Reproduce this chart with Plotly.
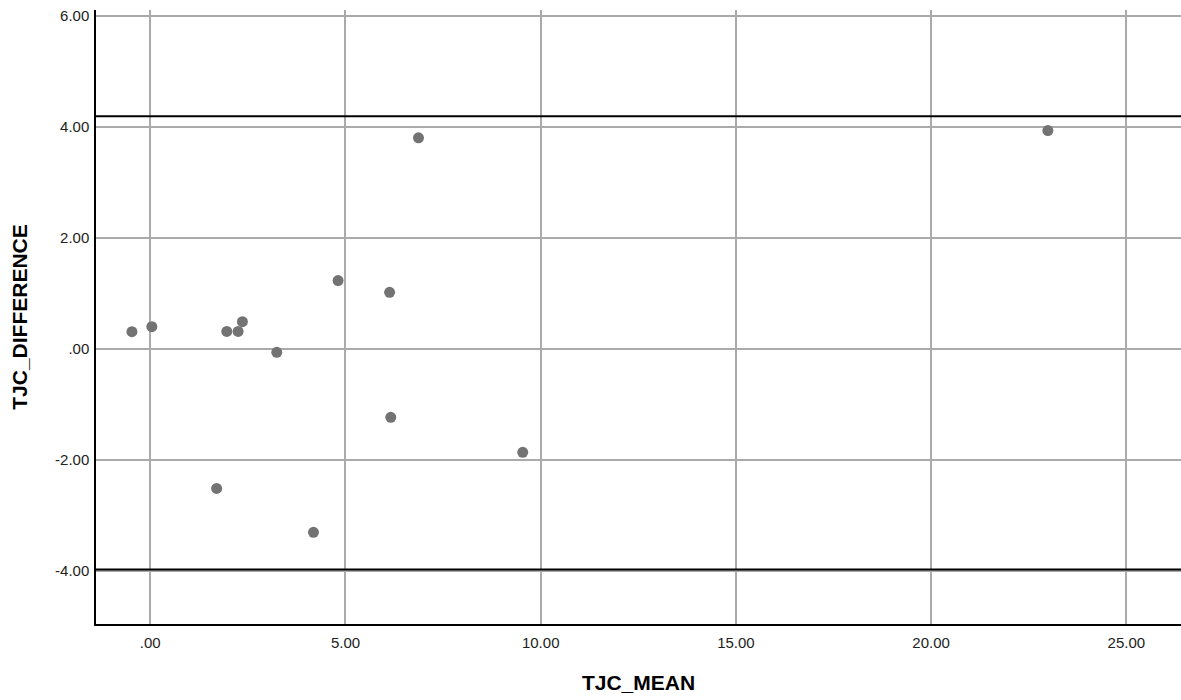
import plotly.graph_objects as go

tjc_mean = [-0.47, 0.04, 1.96, 2.25, 2.36, 3.24, 4.81, 6.13, 6.16, 6.87, 9.54, 1.70, 4.18, 22.99]
tjc_diff = [0.31, 0.40, 0.315, 0.315, 0.49, -0.06, 1.23, 1.02, -1.23, 3.80, -1.86, -2.51, -3.30, 3.93]

upper_loa = 4.19
lower_loa = -3.97

x_tickvals = [0, 5, 10, 15, 20, 25]
x_ticktext = [".00", "5.00", "10.00", "15.00", "20.00", "25.00"]
y_tickvals = [-4, -2, 0, 2, 4, 6]
y_ticktext = ["-4.00", "-2.00", ".00", "2.00", "4.00", "6.00"]

x_range = [-1.39, 26.4]
y_range = [-4.95, 6.1]

fig = go.Figure()
fig.add_trace(go.Scatter(
    x=tjc_mean, y=tjc_diff, mode="markers",
    marker=dict(color="#737373", size=11, line=dict(width=0)),
    showlegend=False, hoverinfo="x+y",
))
for v in (upper_loa, lower_loa):
    fig.add_shape(type="line", xref="paper", x0=0, x1=1, yref="y", y0=v, y1=v,
                  line=dict(color="black", width=2))

font_family = "Liberation Sans, Arial, sans-serif"
fig.update_layout(
    width=1181, height=700,
    margin=dict(l=96, r=0, t=10, b=76, autoexpand=False),
    paper_bgcolor="white", plot_bgcolor="white",
    font=dict(family=font_family, size=15, color="#222222"),
    xaxis=dict(
        range=x_range, tickvals=x_tickvals, ticktext=x_ticktext,
        showgrid=True, gridcolor="#aaaaaa", gridwidth=1.5,
        zeroline=False, showline=True, linecolor="black", linewidth=1.5,
        ticks="", tickfont=dict(size=15, color="#222222"), automargin=False,
        ticklabelstandoff=4,
        title=dict(text="<b>TJC_MEAN</b>", font=dict(size=21, color="black"), standoff=26),
    ),
    yaxis=dict(
        range=y_range, tickvals=y_tickvals, ticktext=y_ticktext,
        showgrid=True, gridcolor="#aaaaaa", gridwidth=1.5,
        zeroline=False, showline=True, linecolor="black", linewidth=1.5,
        ticks="", tickfont=dict(size=15, color="#222222"), automargin=False,
        ticklabelstandoff=2,
        title=dict(text="<b>TJC_DIFFERENCE</b>", font=dict(size=21, color="black"), standoff=22),
    ),
)
fig.write_html("out.html", config={"displayModeBar": False},
               post_script="document.body.style.margin='0';document.body.style.overflow='hidden';")
